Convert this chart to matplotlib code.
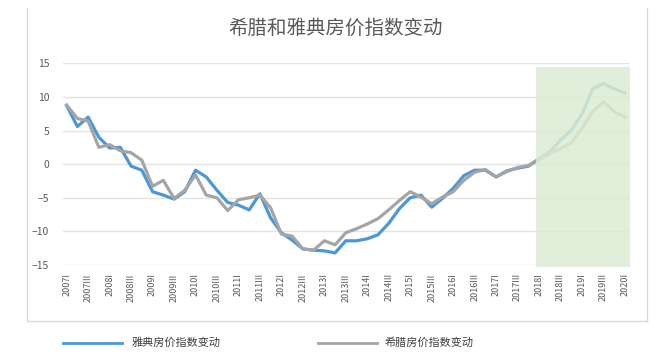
import numpy as np
import matplotlib.pyplot as plt
from matplotlib.patches import Rectangle
from matplotlib.lines import Line2D

plt.rcParams['font.family'] = ['Noto Sans CJK SC', 'DejaVu Sans']

# quarters 2007I .. 2020I
years = list(range(2007, 2021))
quarters = []
for y in years:
    for q in ['I', 'II', 'III', 'IV']:
        quarters.append(str(y) + q)
quarters = quarters[:quarters.index('2020I') + 1]

athens = [8.7, 5.6, 7.0, 4.0, 2.4, 2.5, -0.3, -0.9, -4.1, -4.6,
          -5.2, -4.1, -0.9, -1.9, -3.9, -5.7, -6.1, -6.8, -4.4, -8.0,
          -10.2, -11.3, -12.6, -12.8, -12.9, -13.2, -11.4, -11.4, -11.1, -10.5,
          -8.8, -6.6, -5.0, -4.6, -6.4, -5.1, -3.6, -1.7, -0.9, -0.9,
          -1.9, -1.0, -0.6, -0.3, 0.8, 1.8, 3.6, 5.0, 7.5, 11.2,
          12.0, 11.2, 10.6]
greece = [8.8, 6.8, 6.4, 2.5, 2.9, 2.0, 1.7, 0.6, -3.3, -2.4,
          -5.1, -3.9, -1.6, -4.6, -5.0, -6.9, -5.3, -5.0, -4.6, -6.5,
          -10.4, -10.7, -12.6, -12.8, -11.4, -12.0, -10.2, -9.6, -8.9, -8.1,
          -6.8, -5.4, -4.1, -4.9, -5.9, -4.9, -4.1, -2.4, -1.2, -0.8,
          -1.9, -1.1, -0.5, -0.2, 0.7, 1.6, 2.3, 3.2, 5.3, 7.8,
          9.3, 7.8, 7.0]
forecast_start = '2018I'

x = np.arange(len(quarters))

fig = plt.figure(figsize=(6.57, 3.59), dpi=100)
ax = fig.add_axes([63 / 657, 1 - 265 / 359, (630 - 63) / 657, (265 - 63.3) / 359])

xmin, xmax = -0.34, len(quarters) - 1 + 0.47
ax.set_xlim(xmin, xmax)
ax.set_ylim(-15, 15)

# forecast shading
fs = quarters.index(forecast_start) - 0.24
ax.add_patch(Rectangle((fs, -15.3), xmax - fs, 29.8, facecolor='#dcebd3',
                       edgecolor='none', zorder=3, alpha=0.85, clip_on=False))

ax.plot(x, athens, color='#4a98d8', linewidth=2.3, zorder=2)
ax.plot(x, greece, color='#a5a5a5', linewidth=2.3, zorder=2)

ax.set_yticks(np.arange(-15, 16, 5))
ax.grid(axis='y', color='#e3e3e3', linewidth=1)
ax.set_axisbelow(True)
ax.set_xticks(x[::2])
ax.set_xticklabels(quarters[::2], rotation=90, fontsize=6.5, color='#595959')
for lbl in ax.get_yticklabels():
    lbl.set_fontsize(7.5)
    lbl.set_color('#595959')
ax.tick_params(axis='both', length=0)
ax.tick_params(axis='y', pad=10)
ax.tick_params(axis='x', pad=6)
for s in ax.spines.values():
    s.set_visible(False)

fig.text(0.511, 1 - 28 / 359, '希腊和雅典房价指数变动', ha='center', va='center',
         fontsize=14, color='#595959')

# chart frame
frame_col = '#d9d9d9'
fig.add_artist(Line2D([27 / 657, 27 / 657], [1 - 8 / 359, 1 - 321 / 359],
                      color=frame_col, linewidth=1))
fig.add_artist(Line2D([647 / 657, 647 / 657], [1 - 8 / 359, 1 - 321 / 359],
                      color=frame_col, linewidth=1))
fig.add_artist(Line2D([27 / 657, 647 / 657], [1 - 321 / 359, 1 - 321 / 359],
                      color=frame_col, linewidth=1))

# legend
ly = 1 - 343 / 359
fig.add_artist(Line2D([63 / 657, 122 / 657], [ly, ly], color='#4a98d8', linewidth=2))
fig.text(132 / 657, ly, '雅典房价指数变动', ha='left', va='center', fontsize=8, color='#404040')
fig.add_artist(Line2D([318 / 657, 377 / 657], [ly, ly], color='#a5a5a5', linewidth=2))
fig.text(385 / 657, ly, '希腊房价指数变动', ha='left', va='center', fontsize=8, color='#404040')

fig.savefig('out.png', dpi=100)
